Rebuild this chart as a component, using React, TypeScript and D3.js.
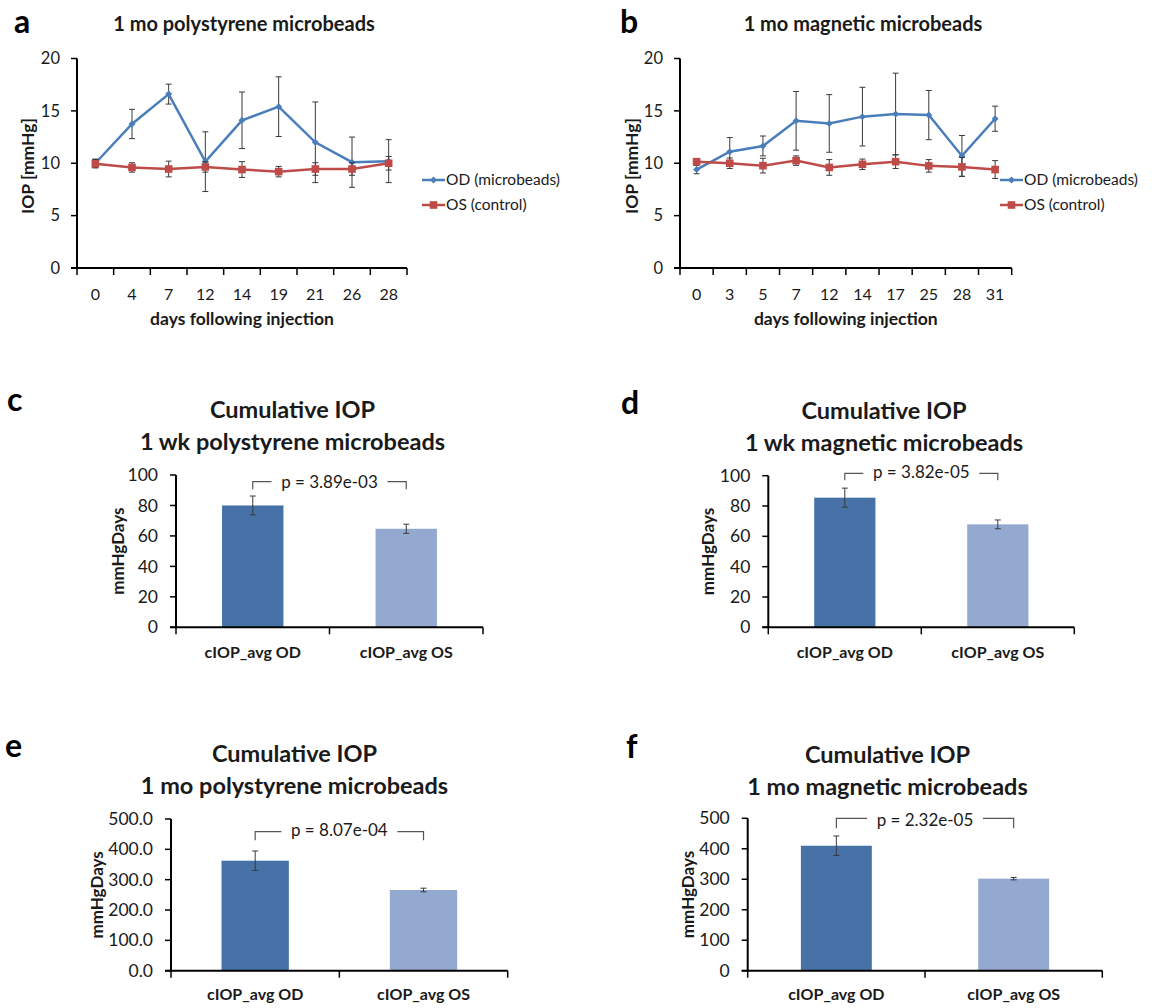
import React from 'react';
import * as d3 from 'd3';

const FONT = "Lato, 'Open Sans', sans-serif";

// ---------- Data ----------
const daysA = ['0', '4', '7', '12', '14', '19', '21', '26', '28'];
const odA = [10.0, 13.75, 16.6, 10.15, 14.1, 15.4, 12.0, 10.1, 10.2];
const odAErr = [0.4, 1.4, 0.95, 2.85, 2.7, 2.85, 3.85, 2.4, 2.05];
const osA = [9.95, 9.6, 9.45, 9.65, 9.4, 9.2, 9.45, 9.45, 10.0];
const osAErr = [0.4, 0.45, 0.75, 0.5, 0.75, 0.5, 0.6, 0.6, 0.65];

const daysB = ['0', '3', '5', '7', '12', '14', '17', '25', '28', '31'];
const odB = [9.4, 11.1, 11.65, 14.05, 13.8, 14.45, 14.7, 14.6, 10.7, 14.25];
const odBErr = [0.4, 1.35, 0.95, 2.8, 2.75, 2.8, 3.9, 2.35, 1.95, 1.2];
const osB = [10.15, 10.0, 9.77, 10.25, 9.6, 9.9, 10.15, 9.75, 9.65, 9.4];
const osBErr = [0.3, 0.5, 0.7, 0.45, 0.75, 0.5, 0.65, 0.6, 0.9, 0.85];

const lineYTicks = [0, 5, 10, 15, 20];
const legendLabels = ['OD (microbeads)', 'OS (control)'];

const barCats = ['cIOP_avg OD', 'cIOP_avg OS'];
const cVals = [80, 64.7];
const cErr = [6.2, 3.0];
const dVals = [85.5, 67.9];
const dErr = [6.3, 2.9];
const eVals = [362.6, 266];
const eErr = [32, 6];
const fVals = [410, 302];
const fErr = [32, 4];
const weekTicks = [0, 20, 40, 60, 80, 100];
const monthTicks = [0, 100, 200, 300, 400, 500];
const pValues = ['p = 3.89e-03', 'p = 3.82e-05', 'p = 8.07e-04', 'p = 2.32e-05'];

// ---------- Styles ----------
const BLUE = '#4A7EBB';
const RED = '#BE4B48';
const BAR_DARK = '#4672A8';
const BAR_LIGHT = '#94A9D0';
const ERR = '#3a3a3a';
const TXT = '#1a1a1a';

type LineProps = {
  letter: string; letterX: number;
  title: string; titleX: number;
  cats: string[]; od: number[]; odErr: number[]; os: number[]; osErr: number[];
  left: number; right: number; legendX: number; ylabelX: number;
};

function LineChart(p: LineProps) {
  const top = 58.5, bottom = 268;
  const x = d3.scaleBand<string>().domain(p.cats).range([p.left, p.right]);
  const y = d3.scaleLinear().domain([0, 20]).range([bottom, top]);
  const cx = (i: number) => (x(p.cats[i]) as number) + x.bandwidth() / 2;
  const line = d3.line<number>().x((_, i) => cx(i)).y((d) => y(d));
  const boundaries = [...p.cats.map((c) => x(c) as number), p.right];
  const errBars = (vals: number[], errs: number[], key: string) =>
    vals.map((v, i) => {
      const xx = cx(i), y1 = y(v + errs[i]), y2 = y(v - errs[i]);
      return (
        <g key={key + i} stroke={ERR} strokeWidth={1}>
          <line x1={xx} x2={xx} y1={y1} y2={y2} />
          <line x1={xx - 3} x2={xx + 3} y1={y1} y2={y1} />
          <line x1={xx - 3} x2={xx + 3} y1={y2} y2={y2} />
        </g>
      );
    });
  const diamond = (xx: number, yy: number, k: string) => (
    <path key={k} d={`M${xx},${yy - 3.5}L${xx + 3.5},${yy}L${xx},${yy + 3.5}L${xx - 3.5},${yy}Z`} fill={BLUE} />
  );
  const square = (xx: number, yy: number, k: string) => (
    <rect key={k} x={xx - 3.8} y={yy - 3.8} width={7.6} height={7.6} fill={RED} />
  );
  const midX = (p.left + p.right) / 2;
  return (
    <g fontFamily={FONT}>
      <text x={p.letterX} y={33} fontSize={32} fontWeight="bold" fill="#000">{p.letter}</text>
      <text x={p.titleX} y={31} fontSize={20} fontWeight="bold" textAnchor="middle" fill={TXT}>{p.title}</text>
      {lineYTicks.map((t) => (
        <g key={'yt' + t}>
          <line x1={p.left - 6} x2={p.left} y1={y(t)} y2={y(t)} stroke="#000" strokeWidth={1.5} />
          <text x={p.left - 17} y={y(t)} dy="0.35em" fontSize={16.5} textAnchor="end" fill={TXT}>{t}</text>
        </g>
      ))}
      {boundaries.map((b, i) => (
        <line key={'xt' + i} x1={b} x2={b} y1={bottom} y2={bottom + 7} stroke="#000" strokeWidth={1.5} />
      ))}
      {p.cats.map((c, i) => (
        <text key={'xl' + c} x={cx(i)} y={300} fontSize={16} textAnchor="middle" fill={TXT}>{c}</text>
      ))}
      <line x1={p.left} x2={p.left} y1={top} y2={bottom} stroke="#000" strokeWidth={2} />
      <line x1={p.left - 6} x2={p.right} y1={bottom} y2={bottom} stroke="#000" strokeWidth={2} />
      <text x={midX} y={325} fontSize={17.5} fontWeight="bold" textAnchor="middle" fill={TXT}>days following injection</text>
      <text transform={`translate(${p.ylabelX},166) rotate(-90)`} fontSize={17.5} fontWeight="bold" textAnchor="middle" dy="0.35em" fill={TXT}>IOP [mmHg]</text>
      <path d={line(p.od) as string} fill="none" stroke={BLUE} strokeWidth={2.5} />
      {errBars(p.od, p.odErr, 'eod')}
      {p.od.map((v, i) => diamond(cx(i), y(v), 'mod' + i))}
      <path d={line(p.os) as string} fill="none" stroke={RED} strokeWidth={2.5} />
      {errBars(p.os, p.osErr, 'eos')}
      {p.os.map((v, i) => square(cx(i), y(v), 'mos' + i))}
      <line x1={p.legendX} x2={p.legendX + 23} y1={180} y2={180} stroke={BLUE} strokeWidth={2.5} />
      {diamond(p.legendX + 11.5, 180, 'lgd1')}
      <text x={p.legendX + 24} y={180} dy="0.35em" fontSize={15.5} fill={TXT}>{legendLabels[0]}</text>
      <line x1={p.legendX} x2={p.legendX + 23} y1={205} y2={205} stroke={RED} strokeWidth={2.5} />
      {square(p.legendX + 11.5, 205, 'lgd2')}
      <text x={p.legendX + 24} y={205} dy="0.35em" fontSize={15.5} fill={TXT}>{legendLabels[1]}</text>
    </g>
  );
}

type BarProps = {
  letter: string; letterX: number; letterY: number;
  title1: string; title2: string; titleX: number; title1Y: number; title2Y: number;
  vals: number[]; errs: number[]; ticks: number[]; fmt: (n: number) => string;
  left: number; right: number; yTop: number; yBottom: number;
  bracketY: number; bracketH: number; pText: string; pY: number;
  ylabelX: number; xlabelY: number;
};

function BarChart(p: BarProps) {
  const max = p.ticks[p.ticks.length - 1];
  const x = d3.scaleBand<string>().domain(barCats).range([p.left, p.right]).paddingInner(0.6).paddingOuter(0.3);
  const band = d3.scaleBand<string>().domain(barCats).range([p.left, p.right]);
  const y = d3.scaleLinear().domain([0, max]).range([p.yBottom, p.yTop]);
  const cx = (i: number) => (x(barCats[i]) as number) + x.bandwidth() / 2;
  const mid = (cx(0) + cx(1)) / 2;
  const gap = 58;
  const boundaries = [...barCats.map((c) => band(c) as number), p.right];
  const midY = (p.yTop + p.yBottom) / 2;
  return (
    <g fontFamily={FONT}>
      <text x={p.letterX} y={p.letterY} fontSize={32} fontWeight="bold" fill="#000">{p.letter}</text>
      <text x={p.titleX} y={p.title1Y} fontSize={23.5} fontWeight="bold" textAnchor="middle" fill={TXT}>{p.title1}</text>
      <text x={p.titleX} y={p.title2Y} fontSize={23.5} fontWeight="bold" textAnchor="middle" fill={TXT}>{p.title2}</text>
      {p.vals.map((v, i) => (
        <rect key={'b' + i} x={x(barCats[i]) as number} y={y(v)} width={x.bandwidth()} height={y(0) - y(v)}
          fill={i === 0 ? BAR_DARK : BAR_LIGHT} />
      ))}
      {p.vals.map((v, i) => {
        const xx = cx(i), y1 = y(v + p.errs[i]), y2 = y(v - p.errs[i]);
        return (
          <g key={'e' + i} stroke={ERR} strokeWidth={1}>
            <line x1={xx} x2={xx} y1={y1} y2={y2} />
            <line x1={xx - 3} x2={xx + 3} y1={y1} y2={y1} />
            <line x1={xx - 3} x2={xx + 3} y1={y2} y2={y2} />
          </g>
        );
      })}
      {p.ticks.map((t) => (
        <g key={'yt' + t}>
          <line x1={p.left - 6} x2={p.left} y1={y(t)} y2={y(t)} stroke="#000" strokeWidth={1.5} />
          <text x={p.left - 18} y={y(t)} dy="0.35em" fontSize={17.5} textAnchor="end" fill={TXT}>{p.fmt(t)}</text>
        </g>
      ))}
      {boundaries.map((b, i) => (
        <line key={'xt' + i} x1={b} x2={b} y1={p.yBottom} y2={p.yBottom + 7} stroke="#000" strokeWidth={1.5} />
      ))}
      <line x1={p.left} x2={p.left} y1={p.yTop} y2={p.yBottom} stroke="#000" strokeWidth={2} />
      <line x1={p.left - 6} x2={p.right} y1={p.yBottom} y2={p.yBottom} stroke="#000" strokeWidth={2} />
      {barCats.map((c, i) => (
        <text key={'xl' + c} x={cx(i)} y={p.xlabelY} fontSize={16} fontWeight="bold" textAnchor="middle" fill={TXT}>{c}</text>
      ))}
      <text transform={`translate(${p.ylabelX},${midY}) rotate(-90)`} fontSize={17} fontWeight="bold" textAnchor="middle" dy="0.35em" fill={TXT}>mmHgDays</text>
      <path d={`M${cx(0)},${p.bracketY + p.bracketH}V${p.bracketY}H${mid - gap}M${mid + gap},${p.bracketY}H${cx(1)}V${p.bracketY + p.bracketH}`}
        fill="none" stroke="#555" strokeWidth={1.2} />
      <text x={mid} y={p.pY} fontSize={17} textAnchor="middle" fill={TXT}>{p.pText}</text>
    </g>
  );
}

export default function App() {
  const fmtInt = (n: number) => d3.format('d')(n);
  const fmt1 = (n: number) => d3.format('.1f')(n);
  return (
    <svg width={1176} height={1008} style={{ position: 'absolute', left: 0, top: 0, background: '#fff' }}>
      <rect width={1176} height={1008} fill="#fff" />
      <LineChart letter="a" letterX={14} title="1 mo polystyrene microbeads" titleX={244}
        cats={daysA} od={odA} odErr={odAErr} os={osA} osErr={osAErr}
        left={77} right={407} legendX={422} ylabelX={27.5} />
      <LineChart letter="b" letterX={620} title="1 mo magnetic microbeads" titleX={863}
        cats={daysB} od={odB} odErr={odBErr} os={osB} osErr={osBErr}
        left={680} right={1011.7} legendX={1000} ylabelX={631.7} />
      <BarChart letter="c" letterX={7} letterY={411} title1="Cumulative IOP" title2="1 wk polystyrene microbeads"
        titleX={292.5} title1Y={418} title2Y={450} vals={cVals} errs={cErr} ticks={weekTicks} fmt={fmtInt}
        left={176} right={483} yTop={475} yBottom={627.3} bracketY={481.7} bracketH={7.5}
        pText={pValues[0]} pY={487.5} ylabelX={118} xlabelY={658} />
      <BarChart letter="d" letterX={621} letterY={414} title1="Cumulative IOP" title2="1 wk magnetic microbeads"
        titleX={884} title1Y={419} title2Y={450.5} vals={dVals} errs={dErr} ticks={weekTicks} fmt={fmtInt}
        left={768.3} right={1074.3} yTop={475.7} yBottom={627.3} bracketY={473.3} bracketH={7}
        pText={pValues[1]} pY={477.5} ylabelX={708.3} xlabelY={658} />
      <BarChart letter="e" letterX={5} letterY={757} title1="Cumulative IOP" title2="1 mo polystyrene microbeads"
        titleX={294.5} title1Y={762.3} title2Y={794} vals={eVals} errs={eErr} ticks={monthTicks} fmt={fmt1}
        left={171} right={507.7} yTop={819} yBottom={970.7} bracketY={831.7} bracketH={8.5}
        pText={pValues[2]} pY={836} ylabelX={97.3} xlabelY={1000} />
      <BarChart letter="f" letterX={626} letterY={758} title1="Cumulative IOP" title2="1 mo magnetic microbeads"
        titleX={887.5} title1Y={763.3} title2Y={795} vals={fVals} errs={fErr} ticks={monthTicks} fmt={fmtInt}
        left={747.7} right={1102.3} yTop={818.3} yBottom={970.7} bracketY={818.3} bracketH={10}
        pText={pValues[3]} pY={826} ylabelX={688.3} xlabelY={1000} />
    </svg>
  );
}
